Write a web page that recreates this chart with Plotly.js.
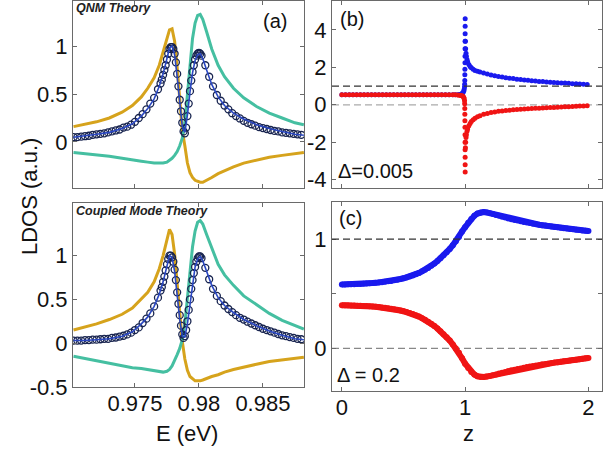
<!DOCTYPE html>
<html>
<head>
<meta charset="utf-8">
<script src="https://cdn.plot.ly/plotly-3.0.1.min.js"></script>
<style>html,body{margin:0;padding:0;background:#fff}#chart{width:610px;height:449px}</style>
</head>
<body>
<div id="chart"></div>
<script>
// ---------- Panels (a) and (c): LDOS vs E ----------
const E_LINE = [0.9702,0.9710,0.9720,0.9730,0.9740,0.9748,0.9755,0.9760,0.9765,0.9769,0.9772,0.9775,0.9777,0.9779,0.9781,0.9783,0.9785,0.9787,0.9789,0.9791,0.9793,0.9795,0.9797,0.9799,0.9801,0.9803,0.9806,0.9810,0.9815,0.9820,0.9827,0.9835,0.9845,0.9855,0.9865,0.9875,0.9882];

const A_GOLD = [0.16,0.18,0.21,0.25,0.31,0.38,0.47,0.56,0.67,0.80,0.93,1.08,1.17,1.18,1.05,0.78,0.45,0.12,-0.04,-0.22,-0.32,-0.37,-0.40,-0.41,-0.42,-0.42,-0.40,-0.37,-0.33,-0.30,-0.26,-0.22,-0.19,-0.16,-0.14,-0.12,-0.11];
const A_TEAL = [-0.11,-0.12,-0.13,-0.15,-0.17,-0.19,-0.20,-0.21,-0.22,-0.22,-0.22,-0.21,-0.19,-0.17,-0.14,-0.10,-0.04,0.04,0.20,0.50,0.82,1.08,1.24,1.32,1.33,1.28,1.15,0.97,0.80,0.68,0.56,0.46,0.37,0.30,0.25,0.20,0.18];
const A_BLUE = [0.05,0.06,0.08,0.10,0.14,0.19,0.27,0.35,0.45,0.58,0.71,0.87,0.98,1.00,0.91,0.68,0.41,0.16,0.10,0.28,0.52,0.72,0.85,0.91,0.92,0.87,0.75,0.60,0.47,0.38,0.30,0.24,0.18,0.14,0.11,0.08,0.07];

const C_GOLD = [0.15,0.18,0.22,0.27,0.33,0.40,0.50,0.58,0.70,0.85,1.00,1.20,1.30,1.24,1.02,0.68,0.32,0.02,-0.18,-0.31,-0.38,-0.41,-0.43,-0.43,-0.43,-0.42,-0.40,-0.38,-0.36,-0.33,-0.30,-0.27,-0.24,-0.21,-0.19,-0.17,-0.16];
const C_TEAL = [-0.15,-0.17,-0.20,-0.23,-0.26,-0.28,-0.29,-0.30,-0.31,-0.32,-0.33,-0.32,-0.30,-0.26,-0.20,-0.13,-0.06,0.04,0.22,0.50,0.82,1.10,1.28,1.38,1.40,1.36,1.24,1.08,0.90,0.78,0.66,0.54,0.44,0.34,0.26,0.20,0.16];
const C_BLUE = [0.03,0.03,0.04,0.05,0.08,0.13,0.22,0.30,0.42,0.56,0.70,0.90,1.00,0.98,0.82,0.55,0.27,0.08,0.07,0.22,0.46,0.70,0.87,0.96,0.99,0.94,0.82,0.66,0.52,0.43,0.35,0.27,0.20,0.14,0.09,0.05,0.04];

const E_CIRC = [0.9702,0.9705,0.9708,0.9711,0.9714,0.9717,0.9720,0.9723,0.9726,0.9729,0.9732,0.9735,0.9738,0.9741,0.9744,0.9747,0.9750,0.9753,0.9756,0.9759,0.9762,0.9765,0.9768,
0.9770,0.9771,0.9772,0.9773,0.9774,0.9775,0.9776,0.9777,0.9778,0.9779,0.9780,0.9781,0.9782,0.9783,0.9784,0.9785,0.9786,0.9787,0.9788,0.9789,0.9790,0.9791,0.9792,0.9793,0.9794,0.9795,0.9796,0.9797,0.9798,0.9799,0.9800,0.9801,0.9802,
0.9805,0.9808,0.9811,0.9814,0.9817,0.9820,0.9823,0.9826,0.9829,0.9832,0.9835,0.9838,0.9841,0.9844,0.9847,0.9850,0.9853,0.9856,0.9859,0.9862,0.9865,0.9868,0.9871,0.9874,0.9877,0.9880];

const A_CIRC = [0.05,0.05,0.055,0.06,0.065,0.075,0.08,0.085,0.09,0.10,0.11,0.12,0.13,0.15,0.16,0.18,0.21,0.25,0.29,0.34,0.40,0.46,0.55,
0.61,0.65,0.70,0.75,0.80,0.86,0.92,0.97,0.99,0.99,0.97,0.92,0.83,0.71,0.58,0.44,0.32,0.20,0.11,0.09,0.15,0.27,0.40,0.53,0.64,0.73,0.80,0.86,0.90,0.92,0.93,0.92,0.90,
0.80,0.68,0.58,0.49,0.43,0.38,0.34,0.30,0.27,0.245,0.22,0.20,0.185,0.17,0.155,0.145,0.135,0.125,0.115,0.11,0.10,0.095,0.09,0.085,0.08,0.075];

const C_CIRC = [0.03,0.03,0.03,0.035,0.035,0.04,0.04,0.045,0.05,0.05,0.06,0.065,0.075,0.085,0.10,0.12,0.15,0.18,0.23,0.28,0.34,0.42,0.52,
0.60,0.64,0.70,0.76,0.83,0.90,0.96,1.00,1.00,0.98,0.93,0.84,0.72,0.58,0.45,0.32,0.20,0.10,0.06,0.08,0.15,0.25,0.38,0.50,0.62,0.72,0.80,0.87,0.93,0.97,0.99,0.99,0.97,
0.86,0.73,0.62,0.54,0.48,0.43,0.39,0.355,0.32,0.29,0.27,0.245,0.225,0.205,0.185,0.165,0.15,0.135,0.12,0.105,0.09,0.08,0.07,0.06,0.05,0.045];

// ---------- Panel (b): Delta = 0.005 ----------
const Z_B = [0,0.03,0.06,0.09,0.12,0.15,0.18,0.21,0.24,0.27,0.30,0.33,0.36,0.39,0.42,0.45,0.48,0.51,0.54,0.57,0.60,0.63,0.66,0.69,0.72,0.75,0.78,0.81,0.84,0.87,0.90,
0.92,0.94,0.955,0.965,0.975,0.982,0.988,0.992,0.995,0.996,0.997,0.9975,0.998,0.9985,0.999,0.9993,0.9996,0.9998,1.0,1.0002,
1.002,1.004,1.007,1.01,1.015,1.02,1.03,1.04,1.05,1.065,1.08,1.10,1.12,1.15,1.18,
1.21,1.24,1.27,1.30,1.33,1.36,1.39,1.42,1.45,1.48,1.51,1.54,1.57,1.60,1.63,1.66,1.69,1.72,1.75,1.78,1.81,1.84,1.87,1.90,1.93,1.96,1.99];

const B_UPPER = [0.53,0.53,0.53,0.53,0.53,0.53,0.53,0.53,0.53,0.53,0.53,0.53,0.53,0.53,0.53,0.53,0.53,0.53,0.53,0.53,0.53,0.53,0.53,0.53,0.53,0.53,0.53,0.53,0.53,0.53,0.53,
0.53,0.54,0.55,0.57,0.60,0.65,0.72,0.82,0.95,1.10,1.30,1.60,1.90,2.25,2.60,3.00,3.40,3.80,4.20,4.60,
3.40,3.00,2.75,2.60,2.42,2.30,2.15,2.05,1.98,1.90,1.84,1.79,1.75,1.70,1.64,
1.59,1.55,1.51,1.48,1.45,1.42,1.40,1.37,1.35,1.33,1.31,1.29,1.27,1.25,1.24,1.22,1.21,1.19,1.18,1.17,1.16,1.15,1.13,1.12,1.11,1.10,1.09];

const B_LOWER = [0.53,0.53,0.53,0.53,0.53,0.53,0.53,0.53,0.53,0.53,0.53,0.53,0.53,0.53,0.53,0.53,0.53,0.53,0.53,0.53,0.53,0.53,0.53,0.53,0.53,0.53,0.53,0.53,0.53,0.53,0.53,
0.53,0.52,0.51,0.50,0.48,0.45,0.40,0.33,0.22,0.05,-0.20,-0.50,-0.85,-1.20,-1.60,-2.00,-2.40,-2.80,-3.20,-3.60,
-2.30,-2.00,-1.75,-1.60,-1.42,-1.30,-1.12,-1.00,-0.90,-0.80,-0.72,-0.64,-0.58,-0.51,-0.46,
-0.41,-0.38,-0.35,-0.33,-0.31,-0.29,-0.27,-0.25,-0.24,-0.23,-0.21,-0.20,-0.19,-0.18,-0.17,-0.16,-0.15,-0.14,-0.13,-0.12,-0.11,-0.10,-0.09,-0.08,-0.07,-0.06,-0.05];

// ---------- Panel (c): Delta = 0.2 ----------
const Z_C = [0,0.025,0.05,0.075,0.1,0.125,0.15,0.175,0.2,0.225,0.25,0.275,0.3,0.325,0.35,0.375,0.4,0.425,0.45,0.475,0.5,0.525,0.55,0.575,0.6,0.625,0.65,0.675,0.7,0.725,0.75,0.775,0.8,0.825,0.85,0.875,0.9,0.925,0.95,0.975,
1.0,1.025,1.05,1.075,1.1,1.125,1.15,1.175,1.2,1.225,1.25,1.275,1.3,1.325,1.35,1.375,1.4,1.425,1.45,1.475,1.5,1.525,1.55,1.575,1.6,1.625,1.65,1.675,1.7,1.725,1.75,1.775,1.8,1.825,1.85,1.875,1.9,1.925,1.95,1.975,2.0];

const C_UPPER = [0.585,0.585,0.586,0.587,0.588,0.589,0.590,0.592,0.594,0.596,0.598,0.600,0.603,0.606,0.610,0.614,0.618,0.623,0.629,0.635,0.642,0.650,0.658,0.668,0.679,0.691,0.705,0.720,0.737,0.756,0.777,0.800,0.825,0.852,0.880,0.910,0.945,0.980,1.020,1.070,
1.110,1.150,1.185,1.215,1.235,1.245,1.248,1.245,1.238,1.230,1.222,1.213,1.205,1.197,1.190,1.183,1.176,1.170,1.164,1.158,1.152,1.147,1.142,1.137,1.132,1.128,1.124,1.120,1.116,1.112,1.108,1.104,1.100,1.097,1.094,1.090,1.087,1.084,1.080,1.077,1.074];

const C_LOWER = [0.395,0.395,0.394,0.393,0.392,0.391,0.390,0.389,0.387,0.385,0.383,0.381,0.378,0.375,0.372,0.368,0.364,0.359,0.353,0.347,0.340,0.332,0.324,0.314,0.303,0.291,0.277,0.262,0.245,0.226,0.205,0.182,0.157,0.130,0.102,0.072,0.035,0.000,-0.040,-0.090,
-0.140,-0.180,-0.215,-0.240,-0.255,-0.262,-0.262,-0.258,-0.252,-0.245,-0.238,-0.230,-0.222,-0.215,-0.208,-0.201,-0.195,-0.189,-0.183,-0.177,-0.171,-0.166,-0.161,-0.156,-0.151,-0.146,-0.142,-0.138,-0.134,-0.130,-0.126,-0.122,-0.118,-0.115,-0.111,-0.107,-0.103,-0.099,-0.095,-0.091,-0.088];

// ---------- Tick labels ----------
const E_TICKS = [0.975, 0.98, 0.985];
const E_TICKTEXT = ['0.975', '0.98', '0.985'];
const Z_TICKS = [0, 1, 2];
const Z_TICKTEXT = ['0', '1', '2'];
const YA_TICKS = [0, 0.5, 1];
const YA_TICKTEXT = ['0', '0.5', '1'];
const YC_TICKS = [-0.5, 0, 0.5, 1];
const YC_TICKTEXT = ['-0.5', '0', '0.5', '1'];
const YB_TICKS = [-4, -2, 0, 2, 4];
const YB_TICKTEXT = ['-4', '-2', '0', '2', '4'];
const YD_TICKS = [0, 0.5, 1];
const YD_TICKTEXT = ['0', '', '1'];

// ---------- Styling ----------
const GOLD = '#D6A31C', TEAL = '#45BFA1', BLUELINE = '#2A47C2', CIRC = '#18244F';
const REDM = '#F01414', BLUEM = '#1A1AEE';
const FONT = 'Liberation Sans, Arial, Helvetica, sans-serif';
const W = 610, H = 449;
const px = v => v / W, py = v => 1 - v / H;

const traces = [
  {x: E_LINE, y: A_GOLD, xaxis: 'x', yaxis: 'y', mode: 'lines', line: {color: GOLD, width: 3}},
  {x: E_LINE, y: A_TEAL, xaxis: 'x', yaxis: 'y', mode: 'lines', line: {color: TEAL, width: 3}},
  {x: E_CIRC, y: A_CIRC, xaxis: 'x', yaxis: 'y', mode: 'markers', marker: {symbol: 'circle-open', size: 7, color: CIRC, line: {width: 1.3}}},
  {x: E_LINE, y: A_BLUE, xaxis: 'x', yaxis: 'y', mode: 'lines', line: {color: BLUELINE, width: 1.6}},

  {x: Z_B, y: B_UPPER, xaxis: 'x2', yaxis: 'y2', mode: 'markers', marker: {size: 5, color: BLUEM}},
  {x: Z_B, y: B_LOWER, xaxis: 'x2', yaxis: 'y2', mode: 'markers', marker: {size: 5, color: REDM}},

  {x: E_LINE, y: C_GOLD, xaxis: 'x3', yaxis: 'y3', mode: 'lines', line: {color: GOLD, width: 3}},
  {x: E_LINE, y: C_TEAL, xaxis: 'x3', yaxis: 'y3', mode: 'lines', line: {color: TEAL, width: 3}},
  {x: E_CIRC, y: C_CIRC, xaxis: 'x3', yaxis: 'y3', mode: 'markers', marker: {symbol: 'circle-open', size: 7, color: CIRC, line: {width: 1.3}}},
  {x: E_LINE, y: C_BLUE, xaxis: 'x3', yaxis: 'y3', mode: 'lines', line: {color: BLUELINE, width: 1.6}},

  {x: Z_C, y: C_UPPER, xaxis: 'x4', yaxis: 'y4', mode: 'lines+markers', line: {color: BLUEM, width: 6}, marker: {size: 6, color: BLUEM}},
  {x: Z_C, y: C_LOWER, xaxis: 'x4', yaxis: 'y4', mode: 'lines+markers', line: {color: REDM, width: 6}, marker: {size: 6, color: REDM}}
];

const axBase = {
  showline: true, linecolor: '#6a6a6a', linewidth: 1, mirror: 'ticks',
  ticks: 'inside', ticklen: 4, tickwidth: 1, tickcolor: '#6a6a6a',
  zeroline: false, showgrid: false, fixedrange: true,
  tickfont: {family: FONT, size: 22, color: '#111'}
};

const dom = {
  xl: [px(73), px(304)], xr: [px(332), px(602)],
  yt: [py(188), py(1)], ybl: [py(387), py(203)], ybr: [py(391), py(202)]
};

const layout = {
  width: W, height: H, margin: {l: 0, r: 0, t: 0, b: 0},
  paper_bgcolor: '#fff', plot_bgcolor: '#fff', showlegend: false,
  font: {family: FONT, color: '#111'},
  xaxis: Object.assign({}, axBase, {domain: dom.xl, anchor: 'y', range: [0.97016, 0.98821], tickvals: E_TICKS, ticktext: E_TICKTEXT, showticklabels: false}),
  yaxis: Object.assign({}, axBase, {domain: dom.yt, anchor: 'x', range: [-0.48, 1.47], tickvals: YA_TICKS, ticktext: YA_TICKTEXT, ticklabelstandoff: 0}),
  xaxis2: Object.assign({}, axBase, {domain: dom.xr, anchor: 'y2', range: [-0.08, 2.11], tickvals: Z_TICKS, ticktext: Z_TICKTEXT, showticklabels: false}),
  yaxis2: Object.assign({}, axBase, {domain: dom.yt, anchor: 'x2', range: [-4.45, 5.55], tickvals: YB_TICKS, ticktext: YB_TICKTEXT, ticklabelstandoff: 0}),
  xaxis3: Object.assign({}, axBase, {domain: dom.xl, anchor: 'y3', range: [0.97016, 0.98821], tickvals: E_TICKS, ticktext: E_TICKTEXT, ticklabelstandoff: -3}),
  yaxis3: Object.assign({}, axBase, {domain: dom.ybl, anchor: 'x3', range: [-0.5, 1.6], tickvals: YC_TICKS, ticktext: YC_TICKTEXT, ticklabelstandoff: 0}),
  xaxis4: Object.assign({}, axBase, {domain: dom.xr, anchor: 'y4', range: [-0.08, 2.11], tickvals: Z_TICKS, ticktext: Z_TICKTEXT, ticklabelstandoff: -3}),
  yaxis4: Object.assign({}, axBase, {domain: dom.ybr, anchor: 'x4', range: [-0.39, 1.34], tickvals: YD_TICKS, ticktext: YD_TICKTEXT, ticklabelstandoff: 0}),
  shapes: [
    {type: 'line', xref: 'x2 domain', yref: 'y2', x0: 0, x1: 1, y0: 1, y1: 1, line: {color: '#333', width: 1.2, dash: '7px,4px'}},
    {type: 'line', xref: 'x2 domain', yref: 'y2', x0: 0, x1: 1, y0: 0, y1: 0, line: {color: '#aaa', width: 1.2, dash: '7px,4px'}, layer: 'below'},
    {type: 'line', xref: 'x4 domain', yref: 'y4', x0: 0, x1: 1, y0: 1, y1: 1, line: {color: '#333', width: 1.2, dash: '7px,4px'}},
    {type: 'line', xref: 'x4 domain', yref: 'y4', x0: 0, x1: 1, y0: 0, y1: 0, line: {color: '#888', width: 1.2, dash: '7px,4px'}, layer: 'below'}
  ],
  annotations: [
    {xref: 'paper', yref: 'paper', x: px(74), y: py(8), xanchor: 'left', yanchor: 'middle', showarrow: false, text: '<b><i>QNM Theory</i></b>', font: {family: FONT, size: 12.5, color: '#222'}},
    {xref: 'paper', yref: 'paper', x: px(275), y: py(21), xanchor: 'center', yanchor: 'middle', showarrow: false, text: '(a)', font: {family: FONT, size: 20, color: '#111'}},
    {xref: 'paper', yref: 'paper', x: px(74), y: py(211), xanchor: 'left', yanchor: 'middle', showarrow: false, text: '<b><i>Coupled Mode Theory</i></b>', font: {family: FONT, size: 12.5, color: '#222'}},
    {xref: 'paper', yref: 'paper', x: px(352), y: py(19), xanchor: 'center', yanchor: 'middle', showarrow: false, text: '(b)', font: {family: FONT, size: 20, color: '#111'}},
    {xref: 'paper', yref: 'paper', x: px(351), y: py(218), xanchor: 'center', yanchor: 'middle', showarrow: false, text: '(c)', font: {family: FONT, size: 20, color: '#111'}},
    {xref: 'paper', yref: 'paper', x: px(336), y: py(171), xanchor: 'left', yanchor: 'middle', showarrow: false, text: 'Δ=0.005', font: {family: FONT, size: 20, color: '#111'}},
    {xref: 'paper', yref: 'paper', x: px(335), y: py(375), xanchor: 'left', yanchor: 'middle', showarrow: false, text: 'Δ = 0.2', font: {family: FONT, size: 20, color: '#111'}},
    {xref: 'paper', yref: 'paper', x: px(29), y: py(197), xanchor: 'center', yanchor: 'middle', showarrow: false, textangle: -90, text: 'LDOS (a.u.)', font: {family: FONT, size: 22, color: '#111'}},
    {xref: 'paper', yref: 'paper', x: px(187), y: py(433), xanchor: 'center', yanchor: 'middle', showarrow: false, text: 'E (eV)', font: {family: FONT, size: 22, color: '#111'}},
    {xref: 'paper', yref: 'paper', x: px(468), y: py(433), xanchor: 'center', yanchor: 'middle', showarrow: false, text: 'z', font: {family: FONT, size: 22, color: '#111'}}
  ]
};

Plotly.newPlot('chart', traces, layout, {staticPlot: true, displayModeBar: false});
</script>
</body>
</html>
